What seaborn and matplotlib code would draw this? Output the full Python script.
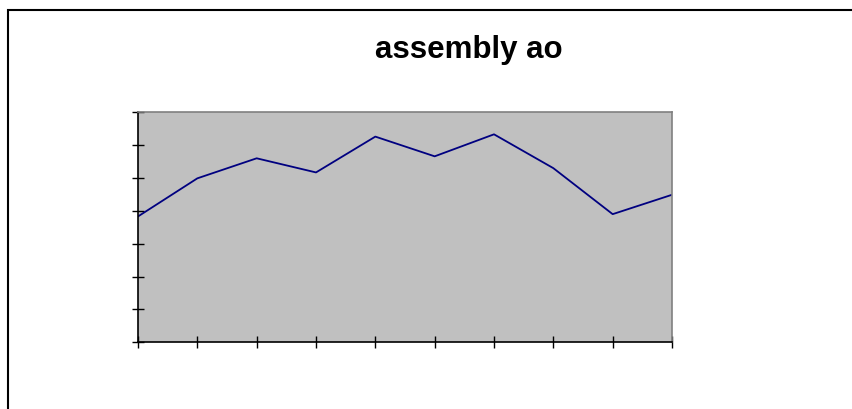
import matplotlib
matplotlib.use("Agg")
import matplotlib.pyplot as plt
import matplotlib.patches as mpatches
import seaborn as sns
import pandas as pd

categories = list(range(10))
values = [3.83, 4.99, 5.60, 5.17, 6.26, 5.66, 6.33, 5.30, 3.90, 4.49]
title = "assembly ao"

sns.set_theme(style="white")
plt.rcParams['font.family'] = ['Liberation Sans', 'DejaVu Sans']

df = pd.DataFrame({"x": categories, "y": values})

fig = plt.figure(figsize=(8.52, 4.10), dpi=100)
ax = fig.add_axes([138/852, 1-343.3/410, (672-138)/852, (343.3-113.3)/410])
ax.set_facecolor("#c0c0c0")
sns.lineplot(data=df, x="x", y="y", ax=ax, color="#000080", linewidth=1.3)
ax.set_xlim(0, 9)
ax.set_ylim(0, 7)
ax.set_xticks(range(10))
ax.set_yticks(range(8))
ax.set_xticklabels([])
ax.set_yticklabels([])
ax.set_xlabel("")
ax.set_ylabel("")
ax.tick_params(axis="both", direction="inout", length=8.6, width=1.0, color="black",
               bottom=True, left=True)
for s in ["left", "bottom"]:
    ax.spines[s].set_color("black")
    ax.spines[s].set_linewidth(1.2)
for s in ["top", "right"]:
    ax.spines[s].set_color("#808080")
    ax.spines[s].set_linewidth(1.2)

fig.text(469/852, 1-58.3/410, title, ha="center", va="baseline", fontsize=22.5,
         fontweight="bold", color="black")

rect = mpatches.Rectangle((7.5/852, -0.1), 1.2, 1-11/410+0.1, transform=fig.transFigure,
                          fill=False, edgecolor="black", linewidth=1.5, clip_on=False)
fig.add_artist(rect)

fig.savefig("out.png", dpi=100)
